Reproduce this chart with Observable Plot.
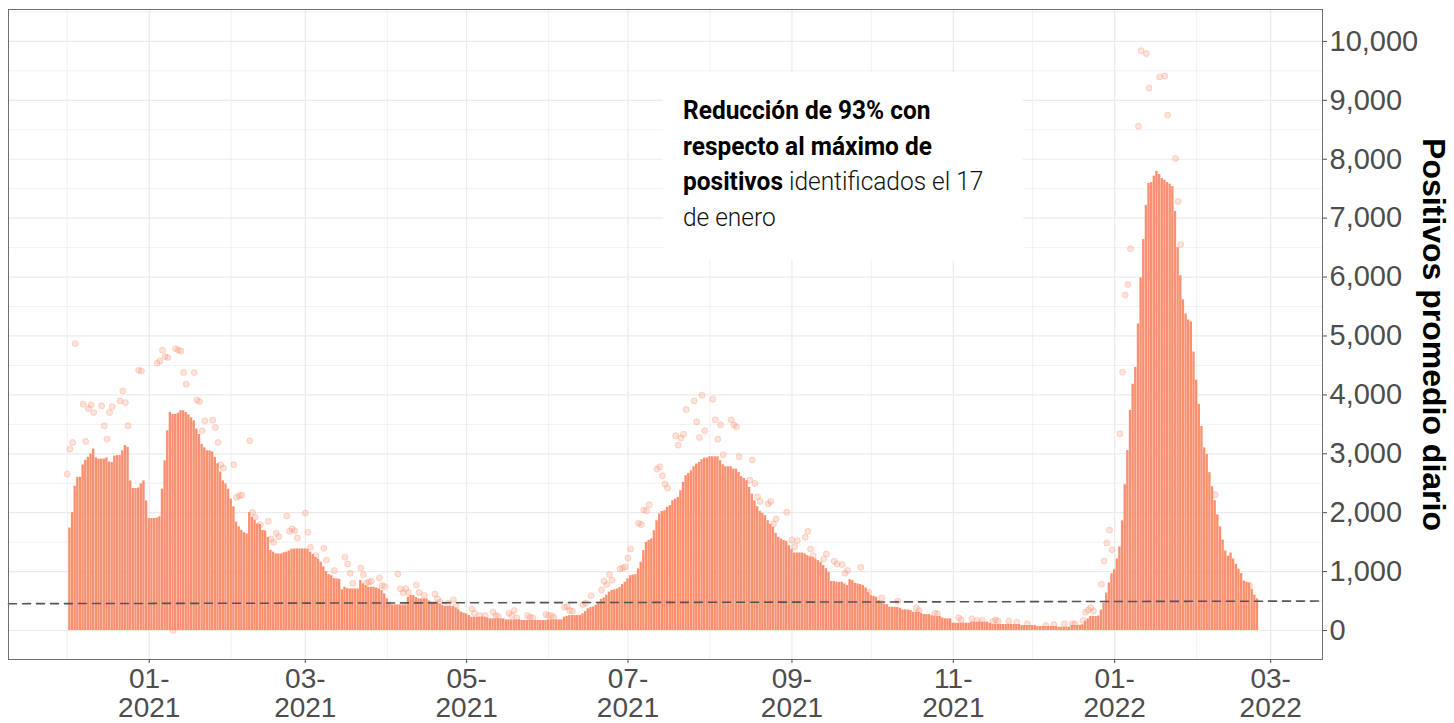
<!DOCTYPE html>
<html>
<head>
<meta charset="utf-8">
<script src="https://cdn.jsdelivr.net/npm/d3@7"></script>
<script src="https://cdn.jsdelivr.net/npm/@observablehq/plot@0.6"></script>
<style>
  html, body { margin: 0; padding: 0; background: #fff; }
  #wrap { position: relative; width: 1454px; height: 723px; overflow: hidden; }
  #nota { position: absolute; left: 663px; top: 72px; width: 360px; height: 188px; background: #fff; }
  #notaTxt { position: absolute; left: 20px; top: 21px; font-family: Roboto, "Noto Sans", sans-serif;
             font-size: 26px; line-height: 35.5px; color: #111; font-weight: 300;
             transform-origin: 0 0; transform: scaleX(0.86); white-space: nowrap; }
  #notaTxt b { font-weight: 700; color: #000; }
</style>
</head>
<body>
<div id="wrap">
  <div id="chart"></div>
  <div id="nota"><div id="notaTxt"></div></div>
</div>
<script>
// ---- Data ----
const fechaInicio = "2020-12-02"; // first day with a 7-day average bar

// Daily 7-day average of positives, one value per day from fechaInicio
const promedioDiario = [
  1740, 2000, 2450, 2600, 2600, 2810, 2890, 2940, 3000, 3080,
  2930, 2910, 2910, 2910, 2930, 2860, 2850, 2960, 2970, 2970,
  3050, 3140, 3110, 2540, 2410, 2410, 2420, 2490, 2540, 2200,
  1900, 1900, 1900, 1910, 1930, 2400, 2880, 3390, 3700, 3670,
  3670, 3690, 3730, 3730, 3700, 3660, 3610, 3560, 3420, 3330,
  3160, 3100, 3050, 3050, 3030, 2940, 2830, 2690, 2540, 2490,
  2400, 2230, 2100, 1840, 1760, 1700, 1660, 1640, 2000, 1920,
  1870, 1810, 1800, 1700, 1690, 1580, 1360, 1330, 1300, 1300,
  1300, 1320, 1330, 1350, 1380, 1385, 1385, 1385, 1385, 1385,
  1380, 1330, 1290, 1240, 1210, 1160, 1080, 1000, 950, 930,
  880, 876, 870, 690, 734, 710, 706, 706, 706, 706,
  847, 791, 760, 734, 734, 734, 720, 706, 678, 621,
  540, 480, 435, 435, 435, 435, 435, 435, 565, 593,
  593, 560, 537, 537, 537, 537, 500, 480, 480, 480,
  452, 424, 407, 407, 407, 407, 384, 350, 311, 295,
  282, 254, 226, 226, 226, 226, 226, 226, 210, 198,
  198, 198, 198, 198, 198, 181, 181, 181, 181, 181,
  181, 170, 170, 170, 170, 170, 170, 170, 170, 170,
  170, 181, 181, 181, 181, 181, 181, 226, 240, 254,
  254, 254, 254, 254, 282, 322, 367, 390, 400, 430,
  480, 530, 554, 600, 650, 678, 690, 706, 730, 780,
  819, 876, 930, 940, 949, 1045, 1158, 1356, 1497, 1530,
  1554, 1695, 1864, 1977, 2020, 2034, 2090, 2119, 2203, 2230,
  2260, 2373, 2514, 2627, 2667, 2712, 2780, 2825, 2853, 2900,
  2927, 2927, 2949, 2949, 2949, 2949, 2881, 2814, 2780, 2780,
  2780, 2740, 2740, 2684, 2610, 2580, 2542, 2429, 2316, 2200,
  2100, 2023, 1989, 1949, 1864, 1800, 1751, 1650, 1582, 1554,
  1530, 1514, 1441, 1380, 1316, 1316, 1316, 1316, 1300, 1271,
  1250, 1243, 1215, 1186, 1158, 1102, 1050, 989, 831, 831,
  819, 819, 819, 790, 763, 864, 847, 800, 791, 780,
  763, 723, 650, 593, 580, 565, 508, 463, 450, 441,
  395, 395, 395, 390, 378, 350, 350, 350, 340, 311,
  311, 311, 290, 271, 271, 271, 250, 237, 237, 237,
  210, 198, 198, 198, 124, 124, 124, 124, 124, 124,
  124, 141, 141, 141, 141, 141, 141, 141, 120, 102,
  102, 102, 102, 102, 102, 102, 102, 102, 102, 102,
  85, 85, 85, 85, 85, 85, 68, 68, 68, 68,
  68, 68, 68, 68, 56, 56, 56, 56, 56, 85,
  85, 85, 89, 100, 157, 198, 239, 239, 239, 245,
  348, 464, 634, 805, 962, 1030, 1214, 1419, 1862, 2476,
  3055, 3737, 4181, 4467, 5204, 5988, 6636, 7216, 7591, 7604,
  7713, 7795, 7741, 7673, 7645, 7604, 7577, 7536, 7113, 6500,
  6022, 5613, 5374, 5272, 5238, 4726, 4249, 3840, 3465, 3100,
  2987, 2680, 2442, 2203, 1964, 1760, 1535, 1350, 1262, 1316,
  1214, 1125, 1043, 966, 839, 818, 805, 700, 600, 537
];

// Daily raw positives that are visible above the bars: day offset from fechaInicio, value
const puntosDia = [
  -1, 0, 1, 2, 5, 6, 7, 8, 9, 12, 13, 14, 15, 16, 19, 20, 21, 22, 26, 27,
  33, 34, 35, 36, 37, 39, 40, 41, 42, 43, 44, 47, 48, 49, 50, 51, 54, 55, 56, 57,
  58, 62, 63, 64, 65, 68, 69, 70, 72, 75, 76, 77, 78, 79, 82, 83, 84, 85, 86, 89,
  90, 91, 93, 96, 97, 100, 104, 105, 106, 107, 110, 111, 112, 113, 114, 117, 118, 119, 124, 125,
  126, 127, 128, 131, 132, 134, 138, 139, 140, 143, 145, 146, 152, 153, 155, 157, 160, 161, 162, 166,
  167, 168, 169, 173, 174, 175, 180, 181, 182, 183, 187, 188, 189, 190, 194, 195, 197, 201, 202, 203,
  204, 205, 208, 209, 210, 211, 212, 215, 216, 217, 218, 219, 222, 223, 224, 225, 226, 229, 230, 231,
  232, 233, 236, 237, 238, 239, 240, 243, 244, 245, 246, 247, 250, 251, 252, 253, 257, 258, 259, 260,
  261, 264, 265, 266, 267, 271, 273, 274, 275, 278, 279, 280, 281, 285, 286, 289, 290, 292, 293, 294,
  299, 302, 307, 313, 320, 321, 327, 328, 336, 337, 341, 343, 345, 349, 350, 351, 355, 358, 362, 369,
  372, 376, 379, 380, 383, 384, 385, 386, 387, 390, 391, 392, 393, 394, 397, 398, 399, 400, 401, 404,
  405, 407, 408, 412, 414, 415, 418, 419, 420, 433, 446
];
const puntosValor = [
  2655, 3079, 3192, 4870, 3842, 3209, 3768, 3831, 3701, 3814, 3475, 3249, 3701, 3797, 3898, 4068, 3870, 3475, 4418, 4407,
  4537, 4576, 4757, 4650, 4633, 0, 4785, 4757, 4746, 4379, 4181, 4379, 3910, 3887, 3390, 3559, 3571, 3446, 3192, 2814,
  2757, 2814, 2260, 2288, 2299, 3220, 2006, 1921, 1797, 1853, 1554, 1497, 1650, 1593, 1943, 1683, 1723, 1695, 1571, 1994,
  1667, 1412, 1271, 1395, 1197, 1017, 1243, 1130, 972, 802, 1062, 949, 802, 825, 836, 893, 763, 746, 961, 706,
  644, 712, 644, 774, 644, 599, 621, 537, 480, 463, 520, 407, 367, 294, 254, 254, 311, 254, 237, 294,
  254, 339, 215, 254, 226, 215, 271, 254, 254, 226, 395, 407, 339, 328, 441, 463, 590, 689, 836, 780,
  949, 853, 1045, 1062, 1080, 1232, 1384, 1820, 1800, 2046, 2034, 2136, 2740, 2780, 2627, 2486, 2418, 3305, 3147, 3266,
  3333, 3751, 3898, 3542, 3277, 3994, 3390, 3927, 3576, 3249, 3491, 2983, 3576, 3491, 3457, 2949, 2554, 2893, 2497, 2271,
  2192, 2147, 2192, 1808, 1893, 2006, 1537, 1424, 1525, 1582, 1684, 1384, 1271, 1215, 1299, 1175, 1130, 1119, 972, 1017,
  1073, 650, 554, 497, 384, 339, 294, 282, 215, 181, 198, 170, 170, 158, 181, 158, 158, 141, 113, 85,
  102, 113, 113, 113, 170, 311, 350, 390, 330, 784, 1180, 1487, 1705, 1371, 3342, 4385, 5695, 5872, 6479, 8559,
  9841, 9794, 9207, 9398, 9412, 8750, 8014, 7284, 6554, 2305, 770
];

// Dashed reference line (values at the left and right edge of the panel)
const referenciaValores = [455, 500];

const ticksY = [0, 1000, 2000, 3000, 4000, 5000, 6000, 7000, 8000, 9000, 10000];
const ticksYMenores = [500, 1500, 2500, 3500, 4500, 5500, 6500, 7500, 8500, 9500, 10500];
const ticksX = ["2021-01-01", "2021-03-01", "2021-05-01", "2021-07-01", "2021-09-01", "2021-11-01", "2022-01-01", "2022-03-01"];
const ticksXMenores = ["2020-12-01", "2021-02-01", "2021-04-01", "2021-06-01", "2021-08-01", "2021-10-01", "2021-12-01", "2022-02-01"];
const dominioX = ["2020-11-08T19:00Z", "2022-03-20T14:00Z"];
const dominioY = [-492, 10542];

const tituloEje = "Positivos promedio diario";
const notaLineas = [
  [["Reducción de 93% con", true]],
  [["respecto al máximo de", true]],
  [["positivos", true], [" identificados el 17", false]],
  [["de enero", false]]
];

// ---- Build tables ----
const DIA = 864e5;
const t0 = new Date(fechaInicio + "T00:00Z").getTime();
const serie = promedioDiario.map((v, i) => ({
  x1: new Date(t0 + i * DIA - 0.45 * DIA),
  x2: new Date(t0 + i * DIA + 0.45 * DIA),
  v
}));
const puntos = puntosDia.map((d, i) => ({ date: new Date(t0 + d * DIA), v: puntosValor[i] }));
const domX = dominioX.map(s => new Date(s));
const referencia = [{ date: domX[0], v: referenciaValores[0] }, { date: domX[1], v: referenciaValores[1] }];
const parseD = s => new Date(s + "T00:00Z");
const majX = ticksX.map(parseD);
const minX = ticksXMenores.map(parseD);

const colorBarra = "#fb9070";
const colorGrid = "#ebebeb";

const chart = Plot.plot({
  width: 1454,
  height: 723,
  marginLeft: 8,
  marginRight: 132,
  marginTop: 9,
  marginBottom: 64,
  x: { type: "utc", domain: domX },
  y: { domain: dominioY },
  style: { fontFamily: "'Liberation Sans', Arial, sans-serif", fontSize: "29px", color: "#4d4d4d", background: "#fff", overflow: "visible" },
  marks: [
    Plot.gridX(minX, { stroke: colorGrid, strokeOpacity: 1, strokeWidth: 0.7 }),
    Plot.gridX(majX, { stroke: colorGrid, strokeOpacity: 1, strokeWidth: 1.2 }),
    Plot.gridY(ticksYMenores, { stroke: colorGrid, strokeOpacity: 1, strokeWidth: 0.7 }),
    Plot.gridY(ticksY, { stroke: colorGrid, strokeOpacity: 1, strokeWidth: 1.2 }),
    Plot.rect(serie, { x1: "x1", x2: "x2", y1: 0, y2: "v", fill: colorBarra }),
    Plot.dot(puntos, { x: "date", y: "v", r: 3, fill: colorBarra, fillOpacity: 0.25, stroke: colorBarra, strokeOpacity: 0.32, strokeWidth: 1 }),
    Plot.line(referencia, { x: "date", y: "v", stroke: "#555", strokeWidth: 1.6, strokeDasharray: "8,6" }),
    Plot.frame({ stroke: "#6e6e6e", strokeWidth: 1 }),
    Plot.axisY(ticksY, { anchor: "right", tickFormat: d3.format(","), tickSize: 4, tickPadding: 3, stroke: "#4d4d4d", fill: "#4d4d4d", label: null }),
    Plot.axisX(majX, {
      anchor: "bottom",
      tickFormat: d => d3.utcFormat("%m")(d) + "-\n" + d3.utcFormat("%Y")(d),
      tickSize: 4, tickPadding: 4, lineHeight: 1.03, fontSize: 28,
      stroke: "#4d4d4d", fill: "#4d4d4d", label: null
    }),
    Plot.text([tituloEje], { frameAnchor: "right", textAnchor: "middle", dx: 111, rotate: 90, fontSize: 32, fontWeight: "bold", fill: "#000" })
  ]
});
document.getElementById("chart").appendChild(chart);

// ---- Annotation ----
const nota = document.getElementById("notaTxt");
notaLineas.forEach((linea, i) => {
  const row = document.createElement("div");
  linea.forEach(([txt, bold]) => {
    const s = document.createElement(bold ? "b" : "span");
    s.textContent = txt;
    row.appendChild(s);
  });
  if (i === 1) row.id = "lineaRef";
  row.style.display = "block";
  nota.appendChild(row);
});
function ajustar() {
  const r = document.getElementById("lineaRef");
  const b = r.firstChild;
  nota.style.transform = "none";
  const w = b.getBoundingClientRect().width;
  if (w > 0) nota.style.transform = "scaleX(" + (249 / w) + ")";
}
ajustar();
if (document.fonts && document.fonts.ready) document.fonts.ready.then(ajustar);
</script>
</body>
</html>
